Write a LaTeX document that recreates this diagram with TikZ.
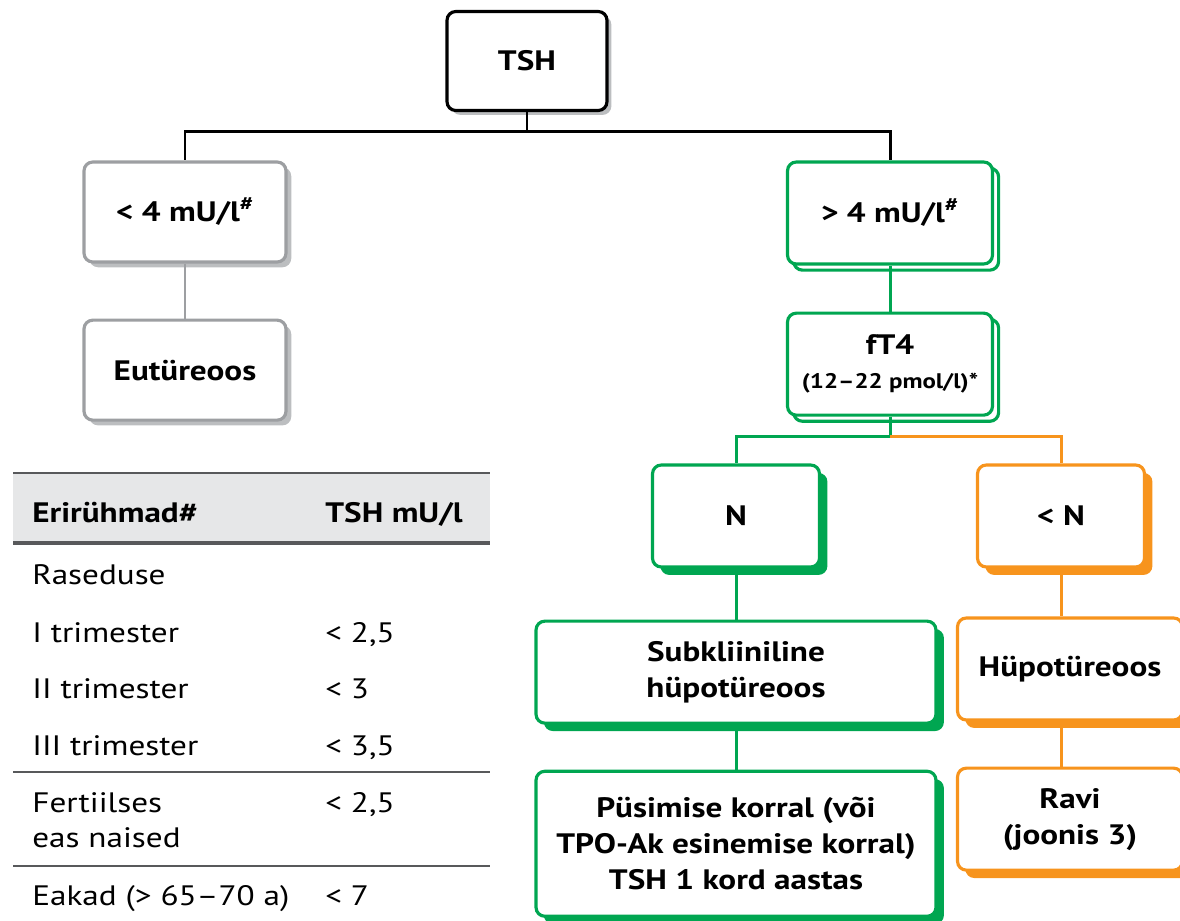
\documentclass[tikz,border=0pt]{standalone}
\usepackage{fontspec}
\setmainfont{PT Sans}[FakeStretch=1.18]
\usepackage{xcolor}
\usetikzlibrary{positioning, shadows}

\definecolor{tgreen}{HTML}{00A651}
\definecolor{torange}{HTML}{F7941D}
\definecolor{tgrey}{HTML}{9D9FA2}
\definecolor{tshade}{HTML}{BCBEC0}
\definecolor{thead}{HTML}{E6E7E8}
\definecolor{trule}{HTML}{58595B}

\begin{document}
\begin{tikzpicture}[x=0.02cm, y=-0.02cm,
  box/.style={rectangle, rounded corners=5pt, draw, fill=white,
              line width=1.8pt, align=center, inner sep=2pt,
              minimum width=4.1cm, minimum height=2.04cm,
              font=\fontsize{16}{20.5}\selectfont\bfseries},
  blackbox/.style={box, draw=black, minimum width=3.2cm, minimum height=1.98cm,
              general shadow={fill=tshade, shadow xshift=2.5pt, shadow yshift=-2.5pt}},
  greybox/.style={box, draw=tgrey, minimum width=4.04cm, minimum height=2cm,
              general shadow={fill=tshade, shadow xshift=3pt, shadow yshift=-3pt}},
  outlinebox/.style={box, draw=tgreen,
              copy shadow={shadow xshift=3.5pt, shadow yshift=-3.5pt}},
  greenbox/.style={box, draw=tgreen, minimum width=3.34cm,
              general shadow={fill=tgreen, shadow xshift=4.5pt, shadow yshift=-4.5pt}},
  orangebox/.style={box, draw=torange, minimum width=3.34cm,
              general shadow={fill=torange, shadow xshift=4.5pt, shadow yshift=-4.5pt}},
  link/.style={line width=1.7pt},
  cell/.style={anchor=base west, inner sep=0pt, font=\fontsize{16}{19}\selectfont},
  headcell/.style={cell, font=\fontsize{16}{19}\selectfont\bfseries}
]
\useasboundingbox (0,0) rectangle (1180,920);
\clip (0,0) rectangle (1180,920);

% flow chart
\node[blackbox] (tsh) at (527,61) {TSH};
\node[greybox] (lo) at (185,212) {< 4 mU/l\textsuperscript{\#}};
\node[greybox, below=1.1cm of lo] (eu) {Eutüreoos};
\node[outlinebox] (hi) at (890,213) {> 4 mU/l\textsuperscript{\#}};
\node[outlinebox, below=0.92cm of hi] (ft) {fT4\\[-1pt]{\fontsize{12}{14}\selectfont\bfseries (12--22 pmol/l)*}};
\node[greenbox] (n) at (736,516) {N};
\node[orangebox] (ln) at (1061,516) {< N};
\node[greenbox, minimum width=8cm, below=1.02cm of n] (sub) {Subkliiniline\\hüpotüreoos};
\node[greenbox, minimum width=8cm, minimum height=2.9cm, below=0.9cm of sub] (pys)
  {Püsimise korral (või\\TPO-Ak esinemise korral)\\TSH 1 kord aastas};
\node[orangebox, minimum width=4.5cm] (hy) at (1070,669) {Hüpotüreoos};
\node[orangebox, minimum width=4.5cm, below=0.9cm of hy] (ravi) {Ravi\\(joonis 3)};

\draw[link] (tsh.south) -- ++(0,19) -| (lo.north);
\draw[link] (tsh.south) -- ++(0,19) -| (hi.north);
\draw[link, tgrey] (lo) -- (eu);
\draw[link, tgreen] (hi) -- (ft);
\draw[link, tgreen] (ft.south) -- ++(0,20) coordinate (split) -| (n.north);
\draw[link, torange] (split) -| (ln.north);
\draw[link, tgreen] (n) -- (sub);
\draw[link, tgreen] (sub) -- (pys);
\draw[link, torange] (ln.south) -- (ln |- hy.north);
\draw[link, torange] (ln |- hy.south) -- (ln |- ravi.north);

% table
\fill[thead] (13,473) rectangle (490,543);
\draw[trule, line width=1.3pt] (13,473) -- (490,473);
\draw[trule, line width=2pt] (13,543) -- (490,543);
\draw[trule, line width=1.3pt] (13,772) -- (490,772);
\draw[trule, line width=1.3pt] (13,866) -- (490,866);

\node[headcell] (hgroup) at (32,522) {Erirühmad\#};
\node[headcell] (hval) at (325,522) {TSH mU/l};
\node[cell] (ras) at (32,584) {Raseduse};
\node[cell] (tri1) at (32,642) {I trimester};
\node[cell] (val1) at (325,642) {< 2,5};
\node[cell] (tri2) at (32,698) {II trimester};
\node[cell] (val2) at (325,698) {< 3};
\node[cell] (tri3) at (32,755) {III trimester};
\node[cell] (val3) at (325,755) {< 3,5};
\node[cell] (fer) at (32,812) {Fertiilses};
\node[cell] (fer2) at (32,847) {eas naised};
\node[cell] (val4) at (325,812) {< 2,5};
\node[cell] (eak) at (32,905) {Eakad (> 65--70 a)};
\node[cell] (val5) at (325,905) {< 7};
\end{tikzpicture}
\end{document}
